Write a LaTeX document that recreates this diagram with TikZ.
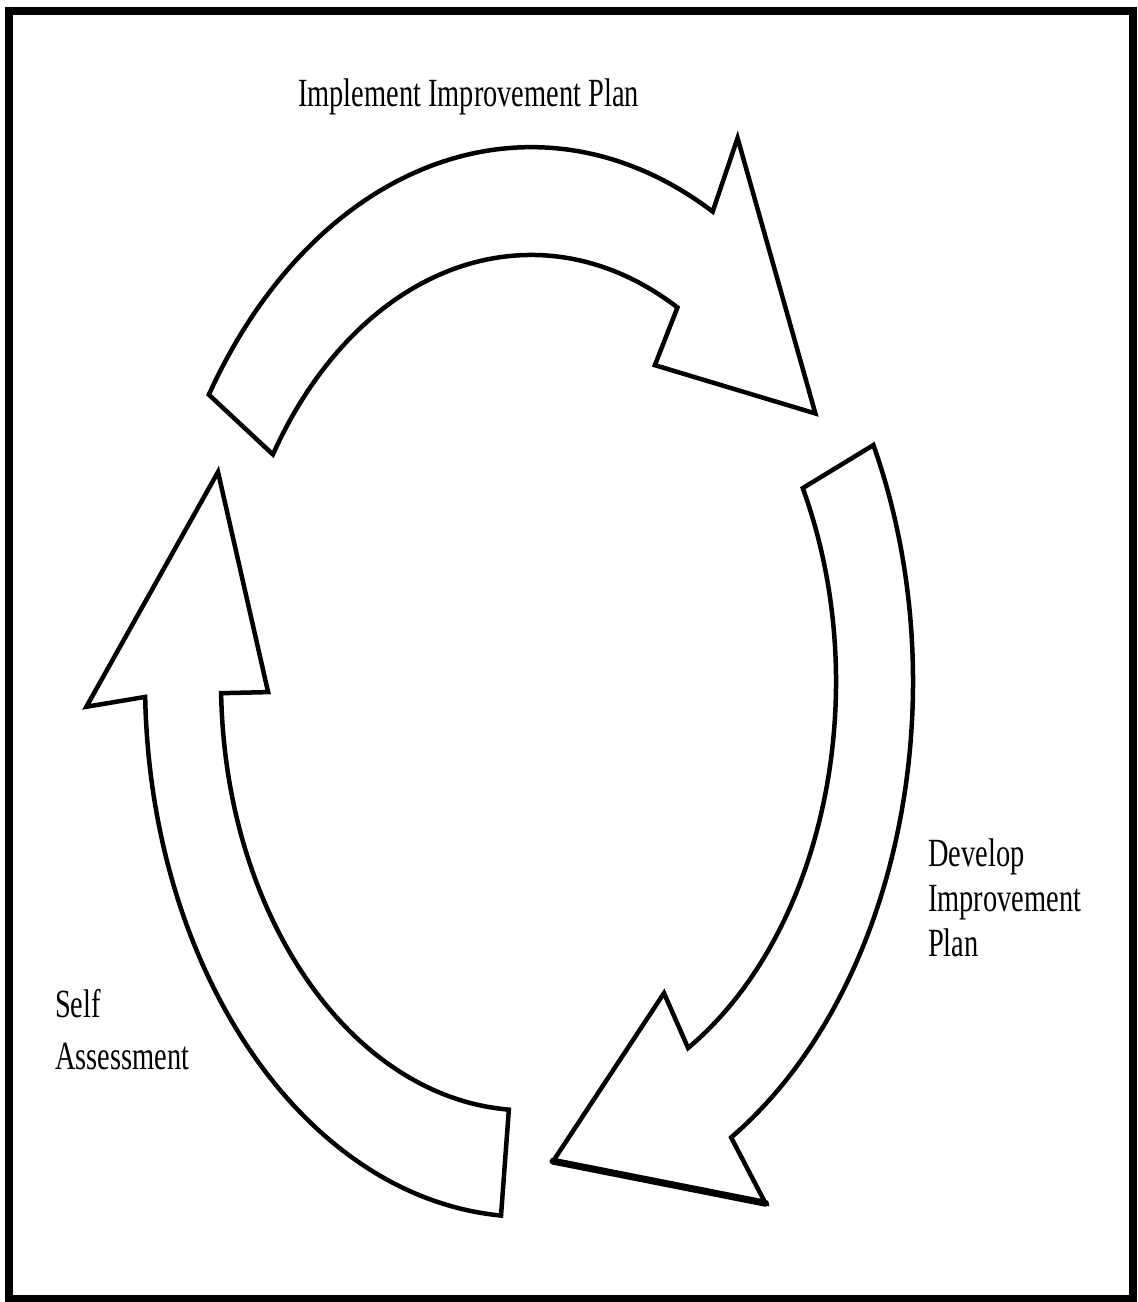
\documentclass[tikz,border=0pt]{standalone}
\usepackage{fontspec}
\newfontfamily\lblfont[FakeStretch=0.71]{Liberation Serif}
\begin{document}
\begin{tikzpicture}[x=1pt,y=1pt,
  cyclearrow/.style={draw=black, line width=4.5pt, line join=miter, fill=white},
  lbl/.style={font={\lblfont\fontsize{40}{45}\selectfont}, inner sep=0pt, align=left, anchor=base west}]
\useasboundingbox (0,0) rectangle (1138,1302);
\draw[line width=8pt] (9,3) rectangle (1133,1291);
% top arrow: Implement Improvement Plan
\begin{scope}[shift={(531,620)}, yscale=1.4]
  \draw[cyclearrow] (147.5:382) arc[start angle=147.5, end angle=61.6, radius=382]
    -- (62:440) -- (34:343) -- (61.3:258) -- (61.3:305)
    arc[start angle=61.3, end angle=147.8, radius=305] -- cycle;
\end{scope}
% right arrow: Develop Improvement Plan
\begin{scope}[shift={(531,620)}, yscale=1.4]
  \draw[cyclearrow] (26.3:382) arc[start angle=26.3, end angle=-58.4, radius=382]
    -- (-57.8:440) -- (-86.3:343) -- (-59.1:259) -- (-59:305)
    arc[start angle=-59, end angle=27, radius=305] -- cycle;
  \draw[line width=7pt, line cap=round] (-86.3:343) -- (-57.8:440);
\end{scope}
% left arrow: Self Assessment
\begin{scope}[shift={(527,620)}, yscale=1.4]
  \draw[cyclearrow] (266.1:382) arc[start angle=266.1, end angle=181.6, radius=382]
    -- (182.3:441) -- (154.1:343.5) -- (181.6:259) -- (181.5:306)
    arc[start angle=181.5, end angle=266.6, radius=306] -- cycle;
\end{scope}
\node[lbl] (impl) at (298,1195) {Implement Improvement Plan};
\node[lbl] (dev) at (928,345) {Develop\\Improvement\\Plan};
\node[lbl, font={\lblfont\fontsize{40}{52}\selectfont}] (self) at (55,232) {Self\\Assessment};
\end{tikzpicture}
\end{document}
